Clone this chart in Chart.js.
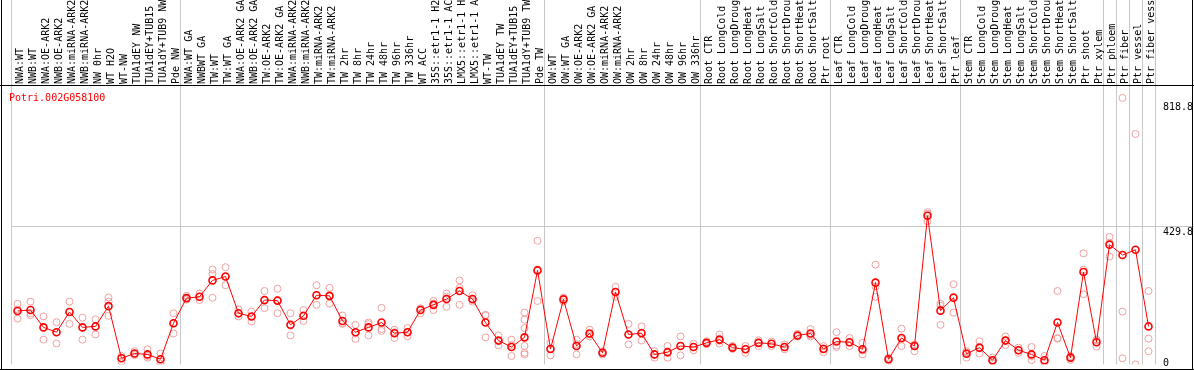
<!DOCTYPE html>
<html>
<head>
<meta charset="UTF-8">
<title>Potri.002G058100</title>
<style>
  body { margin: 0; padding: 0; background: #fff; }
  #chart { display: block; }
</style>
</head>
<body>
<canvas id="chart" width="1194" height="370"></canvas>
<script src="https://cdn.jsdelivr.net/npm/chart.js@4"></script>
<script>
const geneName = 'Potri.002G058100';

const labels = [
  'NWA:WT', 'NWB:WT', 'NWA:OE-ARK2', 'NWB:OE-ARK2', 'NWA:miRNA-ARK2', 'NWB:miRNA-ARK2', 'NW 0hr', 'WT H2O', 'WT-NW',
  'TUA1dEY NW', 'TUA1dEY+TUB15 NW', 'TUA1dY+TUB9 NW', 'Pde NW',
  'NWA:WT GA', 'NWBWT GA', 'TW:WT', 'TW:WT GA', 'NWA:OE-ARK2 GA', 'NWB:OE-ARK2 GA', 'TW:OE-ARK2', 'TW:OE-ARK2 GA',
  'NWA:miRNA-ARK2 GA', 'NWB:miRNA-ARK2 GA', 'TW:miRNA-ARK2', 'TW:miRNA-ARK2 GA',
  'TW 2hr', 'TW 8hr', 'TW 24hr', 'TW 48hr', 'TW 96hr', 'TW 336hr', 'WT ACC',
  '35S::etr1-1 H2O', '35S::etr1-1 ACC', 'LMX5::etr1-1 H2O', 'LMX5::etr1-1 ACC',
  'WT-TW', 'TUA1dEY TW', 'TUA1dEY+TUB15 TW', 'TUA1dY+TUB9 TW', 'Pde TW',
  'OW:WT', 'OW:WT GA', 'OW:OE-ARK2', 'OW:OE-ARK2 GA', 'OW:miRNA-ARK2', 'OW:miRNA-ARK2 GA',
  'OW 2hr', 'OW 8hr', 'OW 24hr', 'OW 48hr', 'OW 96hr', 'OW 336hr',
  'Root CTR', 'Root LongCold', 'Root LongDrought', 'Root LongHeat', 'Root LongSalt',
  'Root ShortCold', 'Root ShortDrought', 'Root ShortHeat', 'Root ShortSalt', 'Ptr root',
  'Leaf CTR', 'Leaf LongCold', 'Leaf LongDrought', 'Leaf LongHeat', 'Leaf LongSalt',
  'Leaf ShortCold', 'Leaf ShortDrought', 'Leaf ShortHeat', 'Leaf ShortSalt', 'Ptr leaf',
  'Stem CTR', 'Stem LongCold', 'Stem LongDrought', 'Stem LongHeat', 'Stem LongSalt',
  'Stem ShortCold', 'Stem ShortDrought', 'Stem ShortHeat', 'Stem ShortSalt', 'Ptr shoot', 'Ptr xylem',
  'Ptr phloem', 'Ptr fiber', 'Ptr vessel', 'Ptr fiber vessel'
];

// mean of each sample (red line)
const means = [
  166, 169, 115, 100, 163, 115, 118, 181, 19, 34, 31, 16, 128,
  206, 210, 261, 273, 159, 149, 200, 198, 123, 151, 215, 213, 135, 100, 115, 130, 97, 100, 169,
  185, 203, 228, 203, 130, 74, 54, 84, 292,
  48, 202, 57, 96, 36, 225, 93, 97, 31, 38, 57, 54,
  67, 77, 52, 47, 67, 64, 54, 90, 96, 48,
  71, 69, 47, 254, 16, 82, 57, 462, 167, 207,
  33, 52, 13, 74, 44, 31, 13, 130, 21, 287, 69,
  372, 340, 356, 118
];

// single replicates (pale circles)
const reps = [
  [188, 171, 142], [195, 159, 153], [149, 115, 77], [131, 100, 65], [195, 163, 126], [145, 115, 77],
  [140, 118, 93], [208, 195, 151], [26, 20, 9], [41, 34, 29], [47, 26, 21], [34, 9, 2], [159, 128, 96],
  [213, 206, 201], [220, 210, 200], [295, 281, 207], [302, 272, 246], [171, 158, 149], [164, 149, 133],
  [228, 198, 175], [235, 200, 159], [159, 120, 90], [169, 150, 135], [246, 215, 185], [238, 212, 189],
  [152, 128, 126], [123, 98, 79], [130, 125, 90], [176, 110, 104], [108, 100, 82], [113, 100, 87],
  [174, 174, 159], [197, 189, 169], [220, 210, 179], [261, 238, 185], [215, 200, 195], [154, 152, 84],
  [90, 73, 59], [77, 60, 26], [161, 139, 113, 57, 36, 31], [384, 295, 197],
  [67, 50, 28], [208, 202, 195], [77, 63, 31], [108, 93, 87], [41, 36, 31], [241, 225, 210],
  [126, 92, 62], [118, 99, 74], [41, 31, 21], [57, 36, 21], [87, 57, 28], [64, 54, 44],
  [72, 67, 63], [93, 73, 65], [57, 52, 48], [57, 48, 36], [75, 68, 57], [71, 64, 57],
  [62, 53, 47], [95, 90, 86], [110, 91, 87], [57, 50, 38],
  [100, 59, 54], [82, 68, 57], [67, 43, 31], [310, 242, 210], [21, 16, 11], [111, 78, 57],
  [62, 57, 41], [473, 468, 445], [189, 182, 123], [249, 210, 161],
  [41, 37, 21], [72, 50, 34], [21, 10, 8], [87, 75, 60], [52, 44, 36], [54, 26, 13],
  [26, 5, 8], [228, 82, 80], [26, 22, 14], [345, 294, 218], [77, 75, 55],
  [396, 378, 335], [828, 164, 19], [716, 0], [228, 80, 41]
];

const yTicks = [0, 429.8, 818.8];
const groupStarts = [0, 13, 41, 53, 63, 73, 84, 85, 86, 87];

const gridGray = '#c8c8c8';
const monoFont = '"DejaVu Sans Mono", "Liberation Mono", monospace';

// one dataset per replicate column, gaps where a sample has fewer replicates
const maxReps = Math.max(...reps.map(r => r.length));
const repSets = [];
for (let k = 0; k < maxReps; k++) {
  repSets.push({
    data: reps.map(r => (r[k] === undefined ? null : r[k])),
    showLine: false,
    pointRadius: 3.5,
    pointBorderWidth: 1,
    pointBorderColor: 'rgb(238,160,160)',
    pointBackgroundColor: 'rgba(255,255,255,0)'
  });
}

const framePlugin = {
  id: 'frame',
  afterDraw(chart) {
    const ctx = chart.ctx;
    const y = chart.scales.y;
    ctx.save();
    // y tick labels on the right
    ctx.font = '10px ' + monoFont;
    ctx.fillStyle = '#000';
    ctx.textAlign = 'left';
    ctx.textBaseline = 'middle';
    yTicks.forEach(v => {
      const py = Math.min(y.getPixelForValue(v) + 6.5, 363);
      ctx.fillText(String(v), chart.chartArea.right + 8, py);
    });
    // gene name
    ctx.fillStyle = '#ff0000';
    ctx.fillText(geneName, 9, 98);
    // black frame
    ctx.strokeStyle = '#000';
    ctx.lineWidth = 1;
    ctx.beginPath();
    ctx.moveTo(1.5, 0); ctx.lineTo(1.5, 370);
    ctx.moveTo(1192.5, 0); ctx.lineTo(1192.5, 370);
    ctx.moveTo(0, 85.5); ctx.lineTo(1194, 85.5);
    ctx.moveTo(0, 369.5); ctx.lineTo(1194, 369.5);
    ctx.stroke();
    ctx.restore();
  }
};

new Chart(document.getElementById('chart'), {
  type: 'line',
  data: {
    labels: labels,
    datasets: [{
      data: means,
      borderColor: '#ff0000',
      borderWidth: 1,
      tension: 0,
      pointRadius: 3.5,
      pointBorderWidth: 1.6,
      pointBorderColor: '#ff0000',
      pointBackgroundColor: 'rgba(255,255,255,0)'
    }].concat(repSets)
  },
  options: {
    responsive: false,
    animation: false,
    devicePixelRatio: 1,
    layout: { padding: { left: 11, right: 0, top: 0, bottom: 1 } },
    plugins: { legend: { display: false }, tooltip: { enabled: false } },
    scales: {
      x: {
        type: 'category',
        position: 'top',
        offset: true,
        grid: {
          offset: true,
          drawTicks: true,
          tickLength: 86,
          color: ctx => (ctx.index === undefined || groupStarts.includes(ctx.index)) ? gridGray : 'rgba(0,0,0,0)'
        },
        border: { display: false },
        ticks: {
          autoSkip: false,
          minRotation: 90,
          maxRotation: 90,
          padding: -84,
          labelOffset: 15,
          color: '#000',
          font: { family: monoFont, size: 10 }
        },
        afterFit: s => { s.height = 86; }
      },
      y: {
        position: 'right',
        min: 0,
        max: 865,
        afterBuildTicks: s => { s.ticks = yTicks.map(v => ({ value: v })); },
        grid: {
          drawTicks: true,
          tickLength: 39,
          color: ctx => (ctx.tick && ctx.tick.value === 429.8) ? gridGray : 'rgba(0,0,0,0)'
        },
        border: { display: false },
        ticks: { display: false },
        afterFit: s => { s.width = 39; }
      }
    }
  },
  plugins: [framePlugin]
});
</script>
</body>
</html>
